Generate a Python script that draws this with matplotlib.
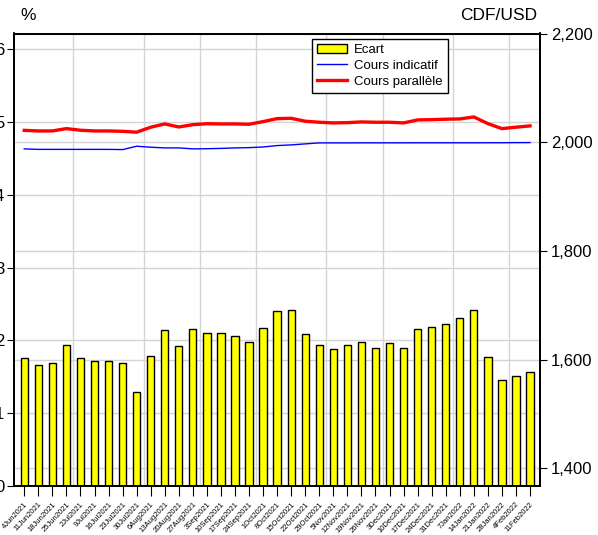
import numpy as np
import matplotlib
matplotlib.use("Agg")
import matplotlib.pyplot as plt
import matplotlib.transforms as mtransforms
from matplotlib.patches import Patch
from matplotlib.lines import Line2D

plt.rcParams['font.family'] = ['Liberation Sans', 'DejaVu Sans']

# weekly observation dates
dates = ["4Jun2021", "11Jun2021", "18Jun2021", "25Jun2021", "2Jul2021", "9Jul2021",
         "16Jul2021", "23Jul2021", "30Jul2021", "6Aug2021", "13Aug2021", "20Aug2021",
         "27Aug2021", "3Sep2021", "10Sep2021", "17Sep2021", "24Sep2021", "1Oct2021",
         "8Oct2021", "15Oct2021", "22Oct2021", "29Oct2021", "5Nov2021", "12Nov2021",
         "19Nov2021", "26Nov2021", "3Dec2021", "10Dec2021", "17Dec2021", "24Dec2021",
         "31Dec2021", "7Jan2022", "14Jan2022", "21Jan2022", "28Jan2022", "4Feb2022",
         "11Feb2022"]

# gap between parallel and official rate (%)
ecart = [1.76, 1.66, 1.69, 1.94, 1.75, 1.71, 1.72, 1.69, 1.29, 1.78, 2.14, 1.92,
         2.16, 2.10, 2.10, 2.06, 1.98, 2.17, 2.40, 2.41, 2.08, 1.94, 1.88, 1.94,
         1.97, 1.89, 1.96, 1.89, 2.16, 2.18, 2.23, 2.30, 2.42, 1.77, 1.45, 1.51, 1.57]

# CDF/USD rates
cours_indicatif = [1987.7, 1986.8, 1986.8, 1986.8, 1986.8, 1986.8, 1986.8, 1986.4,
                   1992.6, 1990.8, 1989.5, 1989.5, 1987.7, 1988.0, 1988.6, 1989.5,
                   1990.0, 1991.2, 1993.8, 1995.0, 1996.9, 1998.7, 1998.7, 1998.7,
                   1998.8, 1998.8, 1998.8, 1998.8, 1998.9, 1998.9, 1998.9, 1998.9,
                   1998.9, 1999.0, 1999.0, 1999.2, 1999.3]
cours_parallele = [2021.8, 2020.7, 2020.7, 2025.0, 2022.0, 2020.7, 2020.7, 2020.0,
                   2018.4, 2027.6, 2033.6, 2028.0, 2032.3, 2034.0, 2033.6, 2033.6,
                   2033.0, 2037.9, 2043.4, 2044.0, 2038.6, 2036.7, 2035.5, 2036.0,
                   2037.3, 2036.7, 2036.7, 2035.5, 2041.0, 2041.5, 2042.3, 2042.8,
                   2046.5, 2034.2, 2025.0, 2027.6, 2030.0]

x = np.arange(len(dates))
months = [d.lstrip("0123456789")[:3] for d in dates]
month_edges = [i - 0.5 for i in range(1, len(months)) if months[i] != months[i - 1]]

W, H = 598, 535
fig = plt.figure(figsize=(W / 100, H / 100), dpi=100)
ax = fig.add_axes([14 / W, 49.3 / H, 526 / W, 452.2 / H])
ax2 = ax.twinx()

grid_col = "#d4d4d4"

ax.bar(x, ecart, width=0.52, color="#ffff00", edgecolor="black", linewidth=1.0, zorder=2)
ax.set_xlim(-0.73, 36.71)
ax.set_ylim(0, 6.22)
ax.set_yticks(range(0, 7))
ax.set_yticklabels([str(i) for i in range(0, 7)])

ax2.plot(x, cours_indicatif, color="#0000ff", linewidth=1.0)
ax2.plot(x, cours_parallele, color="#ff0000", linewidth=2.4)
ax2.set_ylim(1368, 2200)
right_ticks = [1400, 1600, 1800, 2000, 2200]
ax2.set_yticks(right_ticks)
ax2.set_yticklabels([f"{v:,}" for v in right_ticks])

# grid: left ticks, right ticks, month boundaries - all beneath the bars
ax.yaxis.grid(True, color=grid_col, linewidth=1.0, zorder=0.5)
ax.set_axisbelow(True)
ax.set_xticks(month_edges, minor=True)
ax.xaxis.grid(True, which="minor", color=grid_col, linewidth=1.0)
blend = mtransforms.blended_transform_factory(ax.transAxes, ax2.transData)
for v in right_ticks:
    ax.plot([0, 1], [v, v], transform=blend, color=grid_col, linewidth=1.0, zorder=0.5)

ax.set_xticks(x)
ax.set_xticklabels(dates, rotation=47, ha="right", va="top", rotation_mode="anchor", fontsize=5.5)
ax.tick_params(axis="x", which="major", length=7, width=0.8, pad=4)
ax.tick_params(axis="x", which="minor", length=0)
ax.tick_params(axis="y", length=5, width=0.8, pad=2, labelsize=12)
ax2.tick_params(axis="y", length=5, width=0.8, pad=3, labelsize=12)

for a in (ax, ax2):
    for s in a.spines.values():
        s.set_linewidth(1.3)
        s.set_color("black")

handles = [Patch(facecolor="#ffff00", edgecolor="black", linewidth=1.0),
           Line2D([], [], color="#0000ff", linewidth=1.0),
           Line2D([], [], color="#ff0000", linewidth=2.4)]
leg = ax2.legend(handles, ["Ecart", "Cours indicatif", "Cours parallèle"],
                 loc="upper left", bbox_to_anchor=(0.566, 0.988), borderaxespad=0,
                 fontsize=9.5, frameon=True, fancybox=False, framealpha=1,
                 edgecolor="black", handlelength=2.3, handletextpad=0.5,
                 labelspacing=0.25, borderpad=0.4)
leg.get_frame().set_linewidth(1.0)

fig.text(20 / W, 1 - 15 / H, "%", fontsize=12.5, ha="left", va="center")
fig.text(537 / W, 1 - 15 / H, "CDF/USD", fontsize=12.5, ha="right", va="center")

fig.savefig("out.png", dpi=100)
